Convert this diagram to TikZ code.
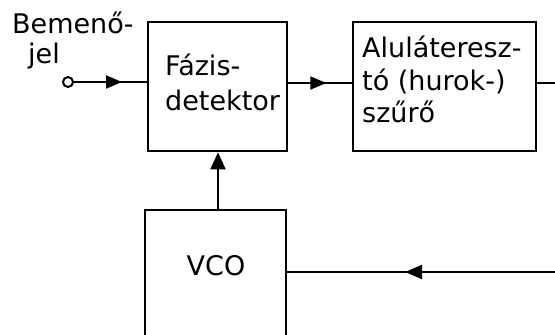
\documentclass[tikz,border=0pt]{standalone}
\usepackage{fontspec}
\setmainfont{DejaVu Sans}
\usetikzlibrary{arrows.meta,decorations.markings}
\begin{document}
\begin{tikzpicture}[x=1pt,y=-1pt,
  >={Triangle[length=16pt,width=13pt]},
  box/.style={draw, line width=2.6pt, inner sep=0pt, rectangle},
  conn/.style={line width=2pt},
  lbl/.style={font=\fontsize{27}{34}\selectfont, inner sep=0pt, anchor=base west},
  midarrow/.style={postaction={decorate}, decoration={markings, mark=at position #1 with {\arrow{>}}}}]
\useasboundingbox (0,0) rectangle (555,335);
\clip (0,0) rectangle (555,335);
\fill[white] (0,0) rectangle (555,335);
% boxes
\node[box, minimum width=139pt, minimum height=129pt] (pd) at (217.5,86.5) {};
\node[box, minimum width=183pt, minimum height=129pt] (lp) at (444.5,86.5) {};
\node[box, minimum width=141pt, minimum height=150pt] (vco) at (215.5,285) {};
% texts
\node[lbl] (in1) at (12,33) {Bemenő-};
\node[lbl] (in2) at (28,63) {jel};
\node[lbl] (pd1) at (165,75) {Fázis-};
\node[lbl] (pd2) at (165,110) {detektor};
\node[lbl] (lp1) at (362,57) {Aluláteresz-};
\node[lbl] (lp2) at (362,90) {tó (hurok-)};
\node[lbl] (lp3) at (362,122) {szűrő};
\node[lbl, anchor=base] (vcot) at (216,275) {VCO};
% input terminal
\node[draw, circle, line width=2pt, minimum size=10pt, inner sep=0pt] (inp) at (68,82) {};
% helper coordinates
\coordinate (y1) at (0,83);
\coordinate (x1) at (218,0);
\coordinate (outR) at (560,83);
\coordinate (fbR) at (560,272);
% connectors
\draw[conn, midarrow=48pt] (inp) -- (inp -| pd.west);
\draw[conn, midarrow=38pt] (pd.east |- y1) -- (lp.west |- y1);
\draw[conn] (lp.east |- y1) -- (outR);
\draw[conn, midarrow=155pt, >={Triangle[length=17pt,width=14pt]}] (fbR) -- (vco.east |- fbR);
\draw[conn, -{Triangle[length=17pt,width=15pt]}] (vco.north -| x1) -- (pd.south -| x1);
\end{tikzpicture}
\end{document}
